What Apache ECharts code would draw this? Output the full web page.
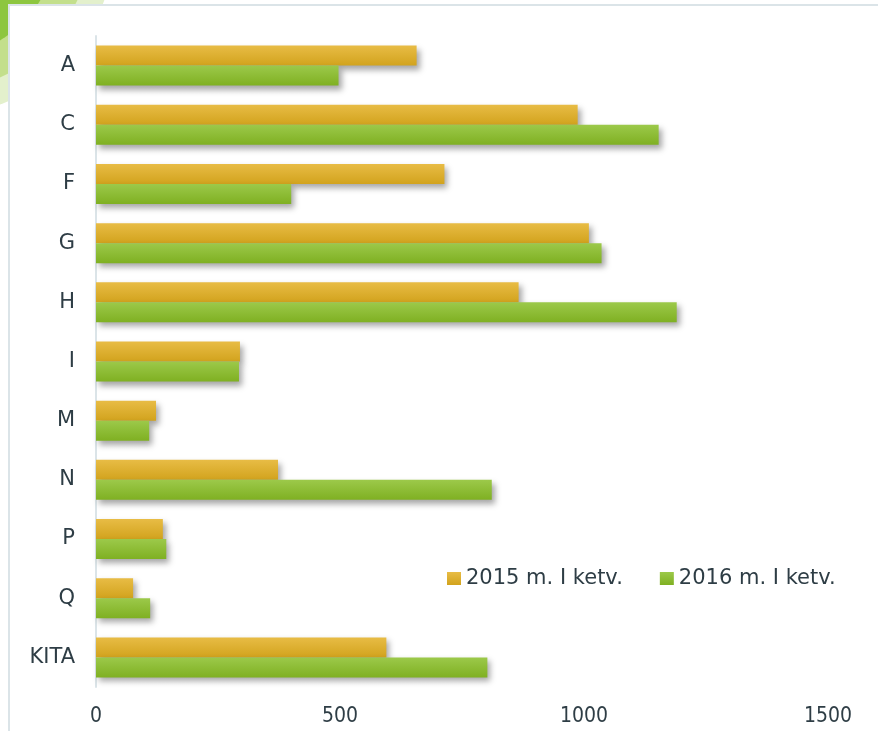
<!DOCTYPE html>
<html>
<head>
<meta charset="utf-8">
<script src="https://cdn.jsdelivr.net/npm/echarts@6/dist/echarts.min.js"></script>
<style>
html, body { margin: 0; padding: 0; background: #fff; }
#chart { width: 878px; height: 731px; }
</style>
</head>
<body>
<div id="chart"></div>
<script>
const categories = ['A', 'C', 'F', 'G', 'H', 'I', 'M', 'N', 'P', 'Q', 'KITA'];
const seriesNames = ['2015 m. I ketv.', '2016 m. I ketv.'];
const values2015 = [657, 987, 714, 1010, 866, 295, 123, 373, 137, 76, 595];
const values2016 = [497, 1153, 400, 1036, 1190, 293, 109, 811, 144, 111, 802];
const xTicks = [0, 500, 1000, 1500];

const textColor = '#2e3d45';
const font = 'DejaVu Sans';

function grad(top, bottom) {
    return new echarts.graphic.LinearGradient(0, 0, 0, 1, [
        { offset: 0, color: top },
        { offset: 1, color: bottom }
    ]);
}

const barShadow = {
    shadowBlur: 6,
    shadowOffsetX: 3,
    shadowOffsetY: 4,
    shadowColor: 'rgba(0, 0, 0, 0.35)'
};

const chart = echarts.init(document.getElementById('chart'));
const option = {
    backgroundColor: '#fff',
    animation: false,
    textStyle: { fontFamily: font },
    graphic: {
        z: -10,
        elements: [
            // green corner decoration
            { type: 'circle', z: -10, shape: { cx: -60, cy: -60, r: 175 }, style: { fill: '#e3f0cc' } },
            { type: 'circle', z: -9, shape: { cx: -60, cy: -60, r: 150 }, style: { fill: '#c3df8c' } },
            { type: 'circle', z: -8, shape: { cx: -60, cy: -60, r: 117 }, style: { fill: '#8dc63f' } },
            // frame
            { type: 'rect', z: -7, shape: { x: 9, y: 5, width: 900, height: 760 },
              style: { fill: '#fff', stroke: '#dbe4e8', lineWidth: 2 } }
        ]
    },
    grid: {
        left: 96,
        right: 50,
        top: 36,
        bottom: 44,
        containLabel: false
    },
    legend: {
        left: 442,
        top: 563,
        itemWidth: 14,
        itemHeight: 13,
        itemGap: 37,
        icon: 'rect',
        textStyle: { fontSize: 21, color: textColor, fontFamily: font },
        data: seriesNames
    },
    xAxis: {
        type: 'value',
        min: 0,
        max: 1500,
        interval: 500,
        axisLine: { show: false },
        axisTick: { show: false },
        splitLine: { show: false },
        axisLabel: {
            fontSize: 21,
            fontFamily: 'DejaVu Sans Condensed',
            color: textColor,
            margin: 19,
            customValues: xTicks,
            formatter: function (v) { return String(v); }
        }
    },
    yAxis: {
        type: 'category',
        inverse: true,
        data: categories,
        axisLine: { show: true, lineStyle: { color: '#dbe4e8', width: 2 } },
        axisTick: { show: false },
        axisLabel: { fontSize: 21, color: textColor, margin: 21 }
    },
    series: [
        {
            name: seriesNames[0],
            type: 'bar',
            data: values2015,
            barWidth: 20,
            barGap: '0%',
            z: 3,
            itemStyle: Object.assign({ color: grad('#e8bc45', '#d2a31d') }, barShadow)
        },
        {
            name: seriesNames[1],
            type: 'bar',
            data: values2016,
            barWidth: 20,
            barGap: '0%',
            z: 3,
            itemStyle: Object.assign({ color: grad('#9cc94a', '#7fb022') }, barShadow)
        }
    ]
};
chart.setOption(option);
window.addEventListener('resize', function () {
    chart.resize();
});
</script>
</body>
</html>
